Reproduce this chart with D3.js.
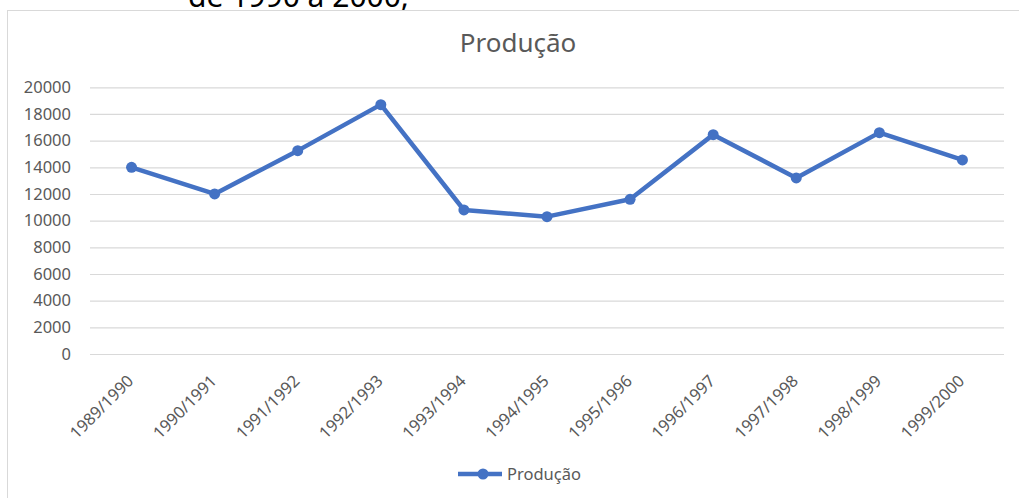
<!DOCTYPE html>
<html>
<head>
<meta charset="utf-8">
<script src="https://cdn.jsdelivr.net/npm/d3@7"></script>
<style>
  body { margin: 0; background: #fff; }
  text { font-family: "Noto Sans", sans-serif; }
</style>
</head>
<body>
<div id="chart"></div>
<script>
// data
const safras = ["1989/1990", "1990/1991", "1991/1992", "1992/1993", "1993/1994", "1994/1995",
  "1995/1996", "1996/1997", "1997/1998", "1998/1999", "1999/2000"];
const producao = [14000, 12000, 15250, 18700, 10800, 10300, 11600, 16450, 13200, 16600, 14550];
const yTicks = [0, 2000, 4000, 6000, 8000, 10000, 12000, 14000, 16000, 18000, 20000];
const serieNome = "Produção";
const tituloTopo = "de 1990 a 2000;";

const width = 1019, height = 498;
const blue = "#4472c4", grey = "#595959", grid = "#d9d9d9";

const x = d3.scaleBand().domain(safras).range([90, 1004]);
const y = d3.scaleLinear().domain([0, 20000]).range([354, 87.3]);

const svg = d3.select("#chart").append("svg")
  .attr("width", width)
  .attr("height", height);

// text of the page above the chart, cut by the crop
svg.append("text")
  .attr("x", 188)
  .attr("y", 7)
  .attr("font-family", "Liberation Sans, Arial, sans-serif")
  .attr("font-size", 30)
  .attr("fill", "#000")
  .text(tituloTopo);

// chart frame
svg.append("rect")
  .attr("x", 7.5)
  .attr("y", 10.5)
  .attr("width", 1030)
  .attr("height", 500)
  .attr("fill", "none")
  .attr("stroke", grid);

svg.append("text")
  .attr("x", 518)
  .attr("y", 52)
  .attr("text-anchor", "middle")
  .attr("font-size", 26)
  .attr("fill", grey)
  .text(serieNome);

// y axis with gridlines
const yAxis = svg.append("g")
  .attr("transform", "translate(90,0)")
  .call(d3.axisLeft(y).tickValues(yTicks).tickSize(-(1004 - 90)).tickPadding(19).tickFormat(d3.format("d")));
yAxis.select(".domain").remove();
yAxis.selectAll(".tick line").attr("stroke", grid).attr("stroke-width", 1.2);
yAxis.selectAll(".tick text")
  .attr("fill", grey)
  .attr("font-size", 16.5)
  .attr("font-family", "Noto Sans, sans-serif");

// x axis labels, rotated
const xAxis = svg.append("g")
  .attr("transform", "translate(0,354)")
  .call(d3.axisBottom(x).tickSize(0));
xAxis.select(".domain").remove();
xAxis.selectAll(".tick text")
  .attr("fill", grey)
  .attr("font-size", 16.5)
  .attr("font-family", "Noto Sans, sans-serif")
  .attr("text-anchor", "end")
  .attr("dy", null)
  .attr("y", 0)
  .attr("transform", "translate(3,28) rotate(-45)");

// series
const pts = safras.map((s, i) => [x(s) + x.bandwidth() / 2, y(producao[i])]);

svg.append("path")
  .attr("d", d3.line()(pts))
  .attr("fill", "none")
  .attr("stroke", blue)
  .attr("stroke-width", 4.5)
  .attr("stroke-linejoin", "round");

svg.append("g")
  .selectAll("circle")
  .data(pts)
  .join("circle")
  .attr("cx", d => d[0])
  .attr("cy", d => d[1])
  .attr("r", 5.5)
  .attr("fill", blue);

// legend
const leg = svg.append("g").attr("transform", "translate(458,474)");
leg.append("line")
  .attr("x1", 0).attr("x2", 44)
  .attr("stroke", blue).attr("stroke-width", 4.5);
leg.append("circle").attr("cx", 25).attr("r", 5.5).attr("fill", blue);
leg.append("text")
  .attr("x", 49)
  .attr("y", 6)
  .attr("font-size", 16.5)
  .attr("fill", grey)
  .text(serieNome);
</script>
</body>
</html>
